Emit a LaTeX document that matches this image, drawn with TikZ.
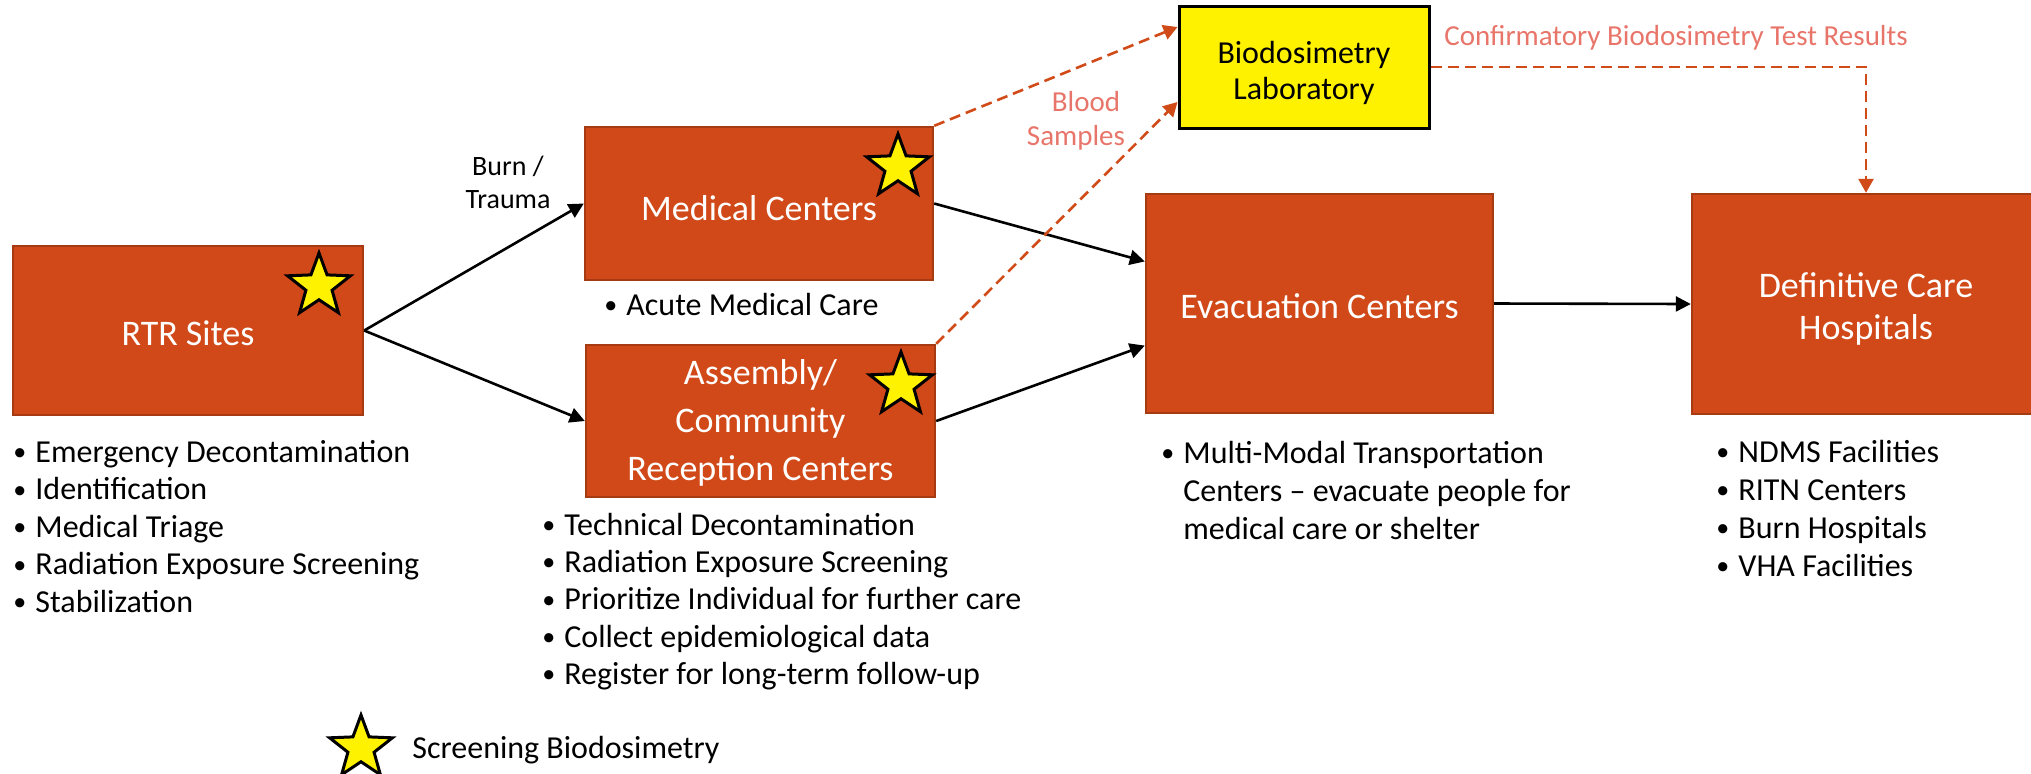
\documentclass[tikz,border=0pt]{standalone}
\usepackage{fontspec}
\setmainfont{Carlito}
\usetikzlibrary{shapes.geometric,arrows.meta,calc}
\definecolor{boxfill}{RGB}{209,73,24}
\definecolor{boxline}{RGB}{166,58,18}
\definecolor{dashc}{RGB}{209,75,25}
\definecolor{salmon}{RGB}{232,117,106}
\newcommand\blt[1]{\makebox[12pt][l]{\hspace*{1pt}\raisebox{0.6pt}{\fontsize{13}{13}\selectfont •}}#1}
\newcommand\ind[1]{\makebox[12pt][l]{}#1}
\begin{document}
\begin{tikzpicture}[x=0.5pt,y=-0.5pt,
  box/.style={draw=boxline,line width=1.2pt,fill=boxfill,text=white,
    font=\fontsize{18}{22.5}\selectfont,align=center,inner sep=0pt},
  boxtext/.style={text=white,font=\fontsize{18}{24}\selectfont,align=center,inner sep=0pt},
  labbox/.style={draw=black,line width=1.5pt,fill=yellow,inner sep=0pt},
  scr/.style={star,star points=5,star point ratio=2.4,draw=black,line width=1.5pt,
    fill=yellow,minimum size=33pt,inner sep=0pt},
  conn/.style={line width=1.3pt,-{Triangle[length=7.5pt,width=7.5pt]}},
  dconn/.style={draw=dashc,line width=1.3pt,dash pattern=on 5.5pt off 3pt,
    -{Triangle[length=7pt,width=7.5pt]}},
  lst/.style={anchor=base west,inner sep=0pt,font=\fontsize{16}{19}\selectfont},
  lbl/.style={inner sep=0pt,font=\fontsize{14.5}{17}\selectfont}]
\useasboundingbox (0,0) rectangle (2031,773);

% boxes
\node[box,minimum width=175pt,minimum height=84.5pt] (rtr) at (188,330.5) {};
\node[box,minimum width=174pt,minimum height=76.5pt] (mc) at (759,203.5) {};
\node[box,minimum width=174.5pt,minimum height=76pt] (ac) at (760.5,421) {};
\node[box,minimum width=173.5pt,minimum height=109.5pt] (ev) at (1319.5,303.5) {};
\node[box,minimum width=174pt,minimum height=110pt] (def) at (1866,304) {};
\node[labbox,minimum width=125pt,minimum height=61pt] (bio) at (1304,67) {};

% box texts
\node[boxtext] (rtrt) at (188,333) {RTR Sites};
\node[boxtext] (mct) at (759,208) {Medical Centers};
\node[boxtext] (act) at (760.5,423) {Assembly/\\Community\\Reception Centers};
\node[boxtext] (evt) at (1319.5,306) {Evacuation Centers};
\node[boxtext,font=\fontsize{18}{21}\selectfont] (deft) at (1866,309) {Definitive Care\\Hospitals};
\node[boxtext,text=black,font=\fontsize{16}{18}\selectfont] (biot) at (1304,73) {Biodosimetry\\Laboratory};

% connectors
\draw[conn] (rtr.east) -- (mc.west);
\draw[conn] (rtr.east) -- (ac.west);
\draw[conn] (mc.east) -- ($(ev.north west)!0.31!(ev.south west)$);
\draw[conn] (ac.east) -- ($(ev.north west)!0.69!(ev.south west)$);
\draw[conn] (ev.east) -- (def.west);
\draw[dconn] (bio.east) -| (def.north);
\draw[dconn] (mc.north east) -- ($(bio.north west)!0.18!(bio.south west)$);
\draw[dconn] (ac.north east) -- ($(bio.north west)!0.78!(bio.south west)$);

% stars
\node[scr] (srtr) at (319,286) {};
\node[scr] (smc) at (898,167) {};
\node[scr] (sac) at (901,385) {};
\node[scr] (sleg) at (361,748) {};

% labels
\node[lbl,anchor=base,font=\fontsize{14}{17}\selectfont] (burn) at (508,175) {Burn /};
\node[lbl,anchor=base,font=\fontsize{14}{17}\selectfont] (trauma) at (508,208) {Trauma};
\node[lbl,anchor=base,text=salmon] (blood) at (1086,111) {Blood};
\node[lbl,anchor=base,text=salmon] (samples) at (1076,145) {Samples};
\node[lbl,anchor=base west,text=salmon] (conf) at (1444,45) {Confirmatory Biodosimetry Test Results};

% lists
\node[lst] (r1) at (11,462) {\blt{Emergency Decontamination}};
\node[lst] (r2) at (11,499.5) {\blt{Identification}};
\node[lst] (r3) at (11,537) {\blt{Medical Triage}};
\node[lst] (r4) at (11,574.5) {\blt{Radiation Exposure Screening}};
\node[lst] (r5) at (11,612) {\blt{Stabilization}};

\node[lst] (m1) at (602,315) {\blt{Acute Medical Care}};

\node[lst] (a1) at (540,535) {\blt{Technical Decontamination}};
\node[lst] (a2) at (540,572) {\blt{Radiation Exposure Screening}};
\node[lst] (a3) at (540,609.5) {\blt{Prioritize Individual for further care}};
\node[lst] (a4) at (540,647) {\blt{Collect epidemiological data}};
\node[lst] (a5) at (540,684) {\blt{Register for long-term follow-up}};

\node[lst] (e1) at (1159,463) {\blt{Multi-Modal Transportation}};
\node[lst] (e2) at (1159,501) {\ind{Centers – evacuate people for}};
\node[lst] (e3) at (1159,539) {\ind{medical care or shelter}};

\node[lst] (d1) at (1714,462) {\blt{NDMS Facilities}};
\node[lst] (d2) at (1714,500) {\blt{RITN Centers}};
\node[lst] (d3) at (1714,538) {\blt{Burn Hospitals}};
\node[lst] (d4) at (1714,576) {\blt{VHA Facilities}};

\node[lst] (leg) at (412,758) {Screening Biodosimetry};
\end{tikzpicture}
\end{document}
